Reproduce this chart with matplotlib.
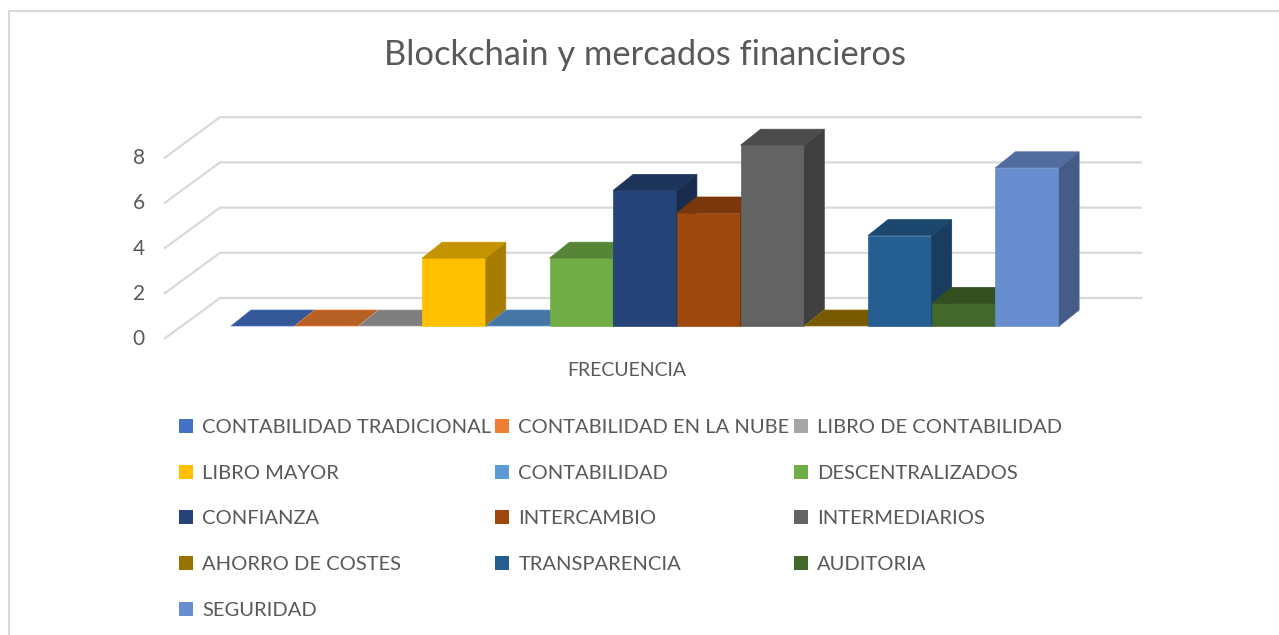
import matplotlib
matplotlib.use("Agg")
import matplotlib.pyplot as plt
from matplotlib.patches import Polygon, Rectangle, Patch

plt.rcParams['font.family'] = ['Lato', 'DejaVu Sans']

# data
categories = ['CONTABILIDAD TRADICIONAL', 'CONTABILIDAD EN LA NUBE', 'LIBRO DE CONTABILIDAD',
              'LIBRO MAYOR', 'CONTABILIDAD', 'DESCENTRALIZADOS',
              'CONFIANZA', 'INTERCAMBIO', 'INTERMEDIARIOS',
              'AHORRO DE COSTES', 'TRANSPARENCIA', 'AUDITORIA',
              'SEGURIDAD']
values = [0, 0, 0, 3, 0, 3, 6, 5, 8, 0, 4, 1, 7]
ticks = [0, 2, 4, 6, 8]
colors = ['#4472C4', '#ED7D31', '#A5A5A5', '#FFC000', '#5B9BD5', '#70AD47',
          '#264478', '#9E480E', '#636363', '#997300', '#255E91', '#43682B',
          '#698ED0']
title = 'Blockchain y mercados financieros'
xlabel = 'FRECUENCIA'

TXT = '#595959'
GRID = '#d9d9d9'
W, H = 1279, 635


def shade(c, f):
    r, g, b = matplotlib.colors.to_rgb(c)
    return (r * f, g * f, b * f)


fig = plt.figure(figsize=(W / 100, H / 100), dpi=100)
ax = fig.add_axes([0, 0, 1, 1])
# pixel layout -> data: one category = 63.7 px, one unit = 22.6 px
px_cat, px_unit, x0, y0 = 63.7, 22.6, 231, 326
ax.set_xlim(-x0 / px_cat, (W - x0) / px_cat)
ax.set_ylim((y0 - H) / px_unit, y0 / px_unit)
ax.axis('off')

# oblique offsets (depth)
bdx, bdv = 20 / px_cat, 16 / px_unit          # bar depth
wall_x, wall_v = (220 - x0) / px_cat, (y0 - 298) / px_unit     # back wall corner
front_x, front_v = (164 - x0) / px_cat, (y0 - 339) / px_unit   # floor front corner
right_x = (1142 - x0) / px_cat

# gridlines: back wall + left side wall
for t in ticks:
    ax.plot([front_x, wall_x, right_x], [front_v + t, wall_v + t, wall_v + t],
            color=GRID, lw=1.6, solid_capstyle='butt', zorder=1)
    ax.text(front_x - 0.3, front_v + t, str(t), ha='right', va='center',
            fontsize=15, color=TXT)

# 3D-ish columns, drawn left to right
for i, (v, c) in enumerate(zip(values, colors)):
    top = [(i, v), (i + 1, v), (i + 1 + bdx, v + bdv), (i + bdx, v + bdv)]
    if v > 0:
        ax.add_patch(Rectangle((i, 0), 1, v, facecolor=c, edgecolor=c, lw=0.5, zorder=3))
        side = [(i + 1, 0), (i + 1 + bdx, bdv), (i + 1 + bdx, v + bdv), (i + 1, v)]
        ax.add_patch(Polygon(side, closed=True, facecolor=shade(c, 0.65),
                             edgecolor=shade(c, 0.65), lw=0.5, zorder=3))
        ax.add_patch(Polygon(top, closed=True, facecolor=shade(c, 0.77),
                             edgecolor=shade(c, 0.77), lw=0.5, zorder=3))
    else:
        ax.add_patch(Polygon(top, closed=True, facecolor=shade(c, 0.77),
                             edgecolor=c, lw=0.5, zorder=3))

fig.text(645 / W, 1 - 55 / H, title, ha='center', va='center', fontsize=24.8, color=TXT)
fig.text(627 / W, 1 - 370 / H, xlabel, ha='center', va='center', fontsize=14, color=TXT)

# legend, filled row-wise like Excel
ncol = 3
nrow = -(-len(categories) // ncol)
handles = []
labels = []
for col in range(ncol):
    for row in range(nrow):
        k = row * ncol + col
        if k < len(categories):
            handles.append(Patch(facecolor=colors[k], edgecolor='none'))
            labels.append(categories[k])
        else:
            handles.append(Patch(facecolor='none', edgecolor='none'))
            labels.append('')
leg = fig.legend(handles, labels, ncol=ncol, loc='upper left',
                 bbox_to_anchor=(179 / W, 1 - 419 / H), frameon=False,
                 fontsize=14.5, labelcolor=TXT, handlelength=0.7, handleheight=0.7,
                 handletextpad=0.45, columnspacing=0.2, labelspacing=1.42,
                 borderaxespad=0, borderpad=0)

# chart border
fig.patches.append(Rectangle((9 / W, -0.1), 1.2, 1 - 11 / H + 0.1, transform=fig.transFigure,
                             fill=False, edgecolor=GRID, lw=1.5))

fig.savefig('out.png', dpi=100)
